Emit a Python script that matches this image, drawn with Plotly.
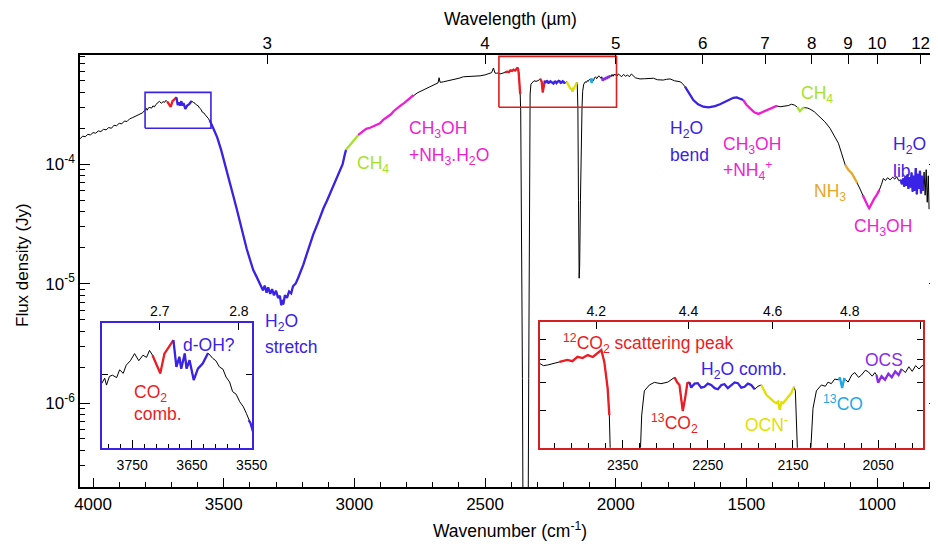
import math
import plotly.graph_objects as go

# ---------------- data ----------------
wavenumber = [
    4050, 4040, 4030, 4020, 4010, 4000, 3990, 3980, 3970, 3960, 3950, 3940, 3930, 3920,
    3910, 3900, 3890, 3880, 3870, 3860, 3850, 3840, 3830, 3820, 3810, 3802, 3796, 3793,
    3788, 3783, 3776, 3771, 3765, 3760, 3753, 3746, 3739, 3732, 3726, 3721, 3716, 3709,
    3703, 3696, 3688, 3681, 3676, 3671, 3668, 3662, 3659, 3654, 3647, 3640, 3632, 3623,
    3615, 3610, 3604, 3598, 3593, 3587, 3582, 3576, 3570, 3564, 3559, 3555, 3552, 3540,
    3525, 3510, 3501, 3490, 3478, 3463, 3450, 3437, 3425, 3412, 3400, 3387, 3375, 3361,
    3350, 3343, 3336, 3330, 3322, 3315, 3308, 3300, 3292, 3285, 3280, 3276, 3272, 3266,
    3258, 3250, 3242, 3235, 3225, 3215, 3208, 3195, 3183, 3170, 3157, 3144, 3131, 3118,
    3105, 3093, 3080, 3068, 3055, 3045, 3037, 3032, 3025, 3015, 3005, 2995, 2985, 2970,
    2955, 2940, 2925, 2910, 2902, 2890, 2875, 2860, 2850, 2838, 2825, 2810, 2795, 2785,
    2774, 2760, 2745, 2730, 2715, 2700, 2690, 2680, 2676, 2672, 2660, 2640, 2620, 2600,
    2583, 2560, 2540, 2519, 2500, 2485, 2475, 2468, 2462, 2456, 2448, 2443, 2438, 2430,
    2424, 2415, 2409, 2403, 2397, 2391, 2385, 2379, 2375, 2371.5, 2367.6, 2365.6, 2363.6, 2360,
    2357, 2355, 2335, 2333, 2331, 2329, 2327.6, 2324.5, 2318.6, 2312.7, 2305, 2297, 2289, 2286,
    2283.3, 2279.4, 2276.6, 2274, 2271.5, 2269.5, 2265.5, 2261.8, 2257.8, 2253.9, 2250, 2246, 2242, 2238.2,
    2234, 2230.4, 2226.5, 2222.5, 2218.5, 2214.7, 2210.7, 2206.8, 2203, 2199, 2195, 2191, 2187.2, 2184,
    2181.3, 2178, 2175.4, 2172.5, 2169.5, 2167.5, 2165.6, 2163.5, 2161.8, 2159, 2155.9, 2152, 2148.8, 2147.2,
    2144.8, 2142.5, 2140, 2138, 2135, 2131, 2129, 2126.5, 2122.5, 2116.6, 2112, 2108.8, 2105, 2101,
    2096, 2095, 2092.3, 2090, 2088, 2085.3, 2081, 2077.4, 2073, 2069.5, 2065, 2061.6, 2057, 2053.8,
    2052, 2050, 2046, 2042, 2038, 2034, 2030, 2026, 2022.5, 2018, 2014, 2010, 2006, 2002,
    1998, 1994, 1990, 1985, 1978, 1970, 1962, 1955, 1948, 1940, 1932, 1925, 1918, 1907,
    1890, 1870, 1856, 1840, 1818, 1805, 1792, 1775, 1754, 1745, 1735, 1720, 1703, 1685,
    1665, 1645, 1620, 1601, 1580, 1562, 1550, 1537, 1525, 1512, 1500, 1486, 1470, 1454,
    1440, 1423, 1405, 1384, 1371, 1359, 1340, 1327, 1315, 1305, 1295, 1285, 1278, 1265,
    1257, 1240, 1218, 1200, 1180, 1165, 1148, 1135, 1122, 1110, 1097, 1085, 1075, 1065,
    1055, 1045, 1035, 1030, 1022, 1012, 1000, 991, 983, 976, 968, 960, 950, 940,
    932, 925, 917, 910, 905, 900, 896, 892, 888, 884, 880, 876, 872, 868,
    864, 860, 856, 852, 848, 844, 840, 836, 832, 828, 824, 820, 816, 812,
    808, 804, 801,
]
flux = [
    1.63e-4, 1.72e-4, 1.70e-4, 1.78e-4, 1.76e-4, 1.84e-4, 1.82e-4, 1.90e-4, 1.88e-4, 1.96e-4, 1.94e-4, 2.03e-4, 2.00e-4, 2.12e-4,
    2.10e-4, 2.20e-4, 2.18e-4, 2.30e-4, 2.28e-4, 2.40e-4, 2.45e-4, 2.52e-4, 2.55e-4, 2.66e-4, 2.70e-4, 2.84e-4, 2.94e-4, 2.83e-4,
    2.97e-4, 2.99e-4, 2.95e-4, 3.08e-4, 3.02e-4, 3.16e-4, 3.24e-4, 3.37e-4, 3.24e-4, 3.34e-4, 3.30e-4, 3.43e-4, 3.34e-4, 3.16e-4,
    3.02e-4, 3.37e-4, 3.50e-4, 3.63e-4, 3.13e-4, 3.31e-4, 3.10e-4, 3.37e-4, 3.10e-4, 3.25e-4, 2.91e-4, 3.10e-4, 3.19e-4, 3.38e-4,
    3.28e-4, 3.24e-4, 3.13e-4, 3.09e-4, 2.96e-4, 2.88e-4, 2.73e-4, 2.69e-4, 2.58e-4, 2.51e-4, 2.42e-4, 2.33e-4, 2.29e-4, 2.00e-4,
    1.68e-4, 1.32e-4, 1.12e-4, 9.3e-5, 7.2e-5, 5.4e-5, 4.2e-5, 3.2e-5, 2.5e-5, 1.95e-5, 1.6e-5, 1.3e-5, 1.15e-5, 1.0e-5,
    8.8e-6, 9.6e-6, 8.4e-6, 9.3e-6, 8.2e-6, 9.0e-6, 8.0e-6, 8.7e-6, 7.6e-6, 7.9e-6, 6.6e-6, 7.3e-6, 6.7e-6, 8.0e-6,
    7.6e-6, 8.6e-6, 8.3e-6, 9.5e-6, 1.0e-5, 1.12e-5, 1.22e-5, 1.45e-5, 1.75e-5, 2.18e-5, 2.6e-5, 3.05e-5, 3.65e-5, 4.3e-5,
    4.95e-5, 5.7e-5, 6.6e-5, 7.5e-5, 8.7e-5, 1.0e-4, 1.2e-4, 1.32e-4, 1.38e-4, 1.45e-4, 1.55e-4, 1.65e-4, 1.76e-4, 1.88e-4,
    1.98e-4, 2.02e-4, 2.10e-4, 2.18e-4, 2.20e-4, 2.35e-4, 2.48e-4, 2.62e-4, 2.78e-4, 2.94e-4, 3.08e-4, 3.25e-4, 3.45e-4, 3.62e-4,
    3.80e-4, 3.95e-4, 4.10e-4, 4.25e-4, 4.40e-4, 4.55e-4, 4.62e-4, 4.80e-4, 5.30e-4, 4.85e-4, 4.90e-4, 5.00e-4, 5.10e-4, 5.25e-4,
    5.40e-4, 5.42e-4, 5.50e-4, 5.50e-4, 5.60e-4, 5.70e-4, 5.85e-4, 6.40e-4, 5.80e-4, 5.78e-4, 5.81e-4, 5.70e-4, 5.73e-4, 5.80e-4,
    5.87e-4, 5.96e-4, 5.90e-4, 6.11e-4, 6.05e-4, 6.19e-4, 6.10e-4, 6.28e-4, 6.44e-4, 5.87e-4, 4.78e-4, 3.87e-4, 2.80e-4, 3.2e-5,
    1.6e-6, 1.3e-7, 1.3e-7, 1.6e-6, 1.6e-5, 3.0e-4, 3.87e-4, 4.68e-4, 4.90e-4, 5.00e-4, 4.95e-4, 5.01e-4, 5.20e-4, 5.00e-4,
    4.90e-4, 4.00e-4, 4.42e-4, 4.97e-4, 5.00e-4, 4.80e-4, 4.95e-4, 4.97e-4, 4.80e-4, 4.83e-4, 4.95e-4, 4.90e-4, 4.78e-4, 4.74e-4,
    4.90e-4, 4.93e-4, 4.78e-4, 4.88e-4, 5.00e-4, 4.97e-4, 4.80e-4, 4.83e-4, 4.95e-4, 4.90e-4, 4.74e-4, 4.85e-4, 4.90e-4, 4.70e-4,
    4.54e-4, 4.45e-4, 4.37e-4, 4.30e-4, 4.25e-4, 4.30e-4, 4.04e-4, 4.28e-4, 4.25e-4, 4.35e-4, 4.48e-4, 4.60e-4, 4.83e-4, 4.68e-4,
    2.95e-4, 5.0e-5, 1.11e-5, 1.4e-5, 5.0e-5, 2.5e-4, 3.0e-4, 4.08e-4, 4.68e-4, 4.90e-4, 4.85e-4, 5.01e-4, 4.95e-4, 5.13e-4,
    5.10e-4, 5.20e-4, 4.79e-4, 5.13e-4, 5.10e-4, 5.01e-4, 5.30e-4, 5.40e-4, 5.20e-4, 5.30e-4, 5.50e-4, 5.43e-4, 5.25e-4, 5.40e-4,
    5.30e-4, 4.99e-4, 5.25e-4, 5.10e-4, 5.35e-4, 5.20e-4, 5.45e-4, 5.30e-4, 5.55e-4, 5.40e-4, 5.65e-4, 5.45e-4, 5.70e-4, 5.55e-4,
    5.72e-4, 5.50e-4, 5.70e-4, 5.60e-4, 5.40e-4, 5.65e-4, 5.45e-4, 5.60e-4, 5.40e-4, 5.70e-4, 5.50e-4, 5.30e-4, 5.25e-4, 5.18e-4,
    5.20e-4, 5.25e-4, 5.25e-4, 5.10e-4, 5.07e-4, 5.15e-4, 5.18e-4, 5.00e-4, 4.91e-4, 4.75e-4, 4.46e-4, 3.95e-4, 3.45e-4, 3.18e-4,
    3.03e-4, 3.00e-4, 3.07e-4, 3.18e-4, 3.35e-4, 3.52e-4, 3.60e-4, 3.63e-4, 3.55e-4, 3.45e-4, 3.15e-4, 2.94e-4, 2.72e-4, 2.64e-4,
    2.72e-4, 2.84e-4, 2.95e-4, 3.08e-4, 3.03e-4, 3.06e-4, 3.10e-4, 3.18e-4, 3.12e-4, 3.00e-4, 2.79e-4, 2.95e-4, 2.98e-4, 2.95e-4,
    2.90e-4, 2.75e-4, 2.50e-4, 2.27e-4, 2.00e-4, 1.75e-4, 1.50e-4, 1.22e-4, 9.86e-5, 9.0e-5, 8.4e-5, 7.6e-5, 6.93e-5, 6.2e-5,
    5.53e-5, 4.9e-5, 4.45e-5, 4.28e-5, 4.7e-5, 5.1e-5, 5.6e-5, 6.1e-5, 6.8e-5, 7.6e-5, 7.3e-5, 7.7e-5, 7.4e-5, 7.8e-5,
    7.5e-5, 7.87e-5, 7.3e-5, 7.4e-5, 6.8e-5, 7.6e-5, 6.5e-5, 7.9e-5, 6.6e-5, 8.2e-5, 6.2e-5, 7.8e-5, 6.4e-5, 8.5e-5,
    5.9e-5, 8.0e-5, 6.0e-5, 9.3e-5, 5.6e-5, 8.3e-5, 6.2e-5, 8.8e-5, 5.7e-5, 8.0e-5, 6.0e-5, 8.6e-5, 5.5e-5, 9.0e-5,
    4.8e-5, 8.0e-5, 4.2e-5,
]

# coloured band segments: (high wavenumber, low wavenumber) and their colours
RED, BLUE, GREEN, MAGENTA = "#ec1c24", "#3a22e6", "#a6e22a", "#f01ed2"
YELLOW, CYAN, PURPLE, ORANGE = "#e2e000", "#1fa8e6", "#8a2be6", "#eaa628"
seg_ranges = [(3716, 3681), (3681, 3623), (3555, 3032), (3032, 2985), (2985, 2774),
              (2424, 2365.6), (2289, 2271.5), (2271.5, 2195), (2187.2, 2148.8),
              (2096, 2088), (2052, 2022.5), (1735, 1512), (1512, 1384), (1305, 1278),
              (1122, 1075), (1055, 991), (910, 824)]
seg_colors = [RED, BLUE, BLUE, GREEN, MAGENTA, RED, RED, BLUE, YELLOW, CYAN, PURPLE,
              BLUE, MAGENTA, GREEN, ORANGE, MAGENTA, BLUE]

main_xticks = [4000, 3500, 3000, 2500, 2000, 1500, 1000]
main_xminor = list(range(4000, 799, -100))
wavelength_ticks = [3, 4, 5, 6, 7, 8, 9, 10, 12]
main_yticks = [1e-6, 1e-5, 1e-4]
blue_inset_wn = [3801, 3549]
blue_inset_flux = [2e-4, 4e-4]
blue_inset_wl = [2.7, 2.8]
blue_inset_xticks = [3750, 3650, 3550]
blue_inset_xminor = list(range(3790, 3549, -20))
red_inset_wn = [2447, 1997]
red_inset_flux = [3e-4, 8e-4]
red_inset_wl = [4.2, 4.4, 4.6, 4.8, 5.0]
red_inset_xticks = [2350, 2250, 2150, 2050]
red_inset_xminor = list(range(2430, 1999, -20))

# ---------------- layout geometry ----------------
# the page body adds an 8px offset; margins compensate so the plot area lands at
# screen x 80..939 and y 55..487
OFF = 8
W, H = 938, 544
PL, PR, PT, PB = 80, 939, 55, 487          # target plot area in screen pixels
L, T = PL - OFF, PT - OFF
R = W - (PR - OFF)
B = H - (PB - OFF)
PW, PH = PR - PL, PB - PT
FONT = "Liberation Sans, Arial, sans-serif"
REDFRAME = "#d42020"


def px_x(x):
    return (x - PL) / PW


def px_y(y):
    return (PB - y) / PH


fig = go.Figure()


def add_spectrum(xa, ya, wblack, wcol):
    fig.add_trace(go.Scatter(x=wavenumber, y=flux, mode="lines", xaxis=xa, yaxis=ya,
                             line=dict(color="black", width=wblack), hoverinfo="skip",
                             showlegend=False))
    for (hi, lo), col in zip(seg_ranges, seg_colors):
        xs = [w for w in wavenumber if lo <= w <= hi]
        ys = [f for w, f in zip(wavenumber, flux) if lo <= w <= hi]
        fig.add_trace(go.Scatter(x=xs, y=ys, mode="lines", xaxis=xa, yaxis=ya,
                                 line=dict(color=col, width=wcol), hoverinfo="skip",
                                 showlegend=False))


add_spectrum("x", "y", 1.0, 2.3)
add_spectrum("x3", "y3", 1.0, 2.3)
add_spectrum("x4", "y4", 1.0, 2.3)

# zoom boxes on main plot
for (x0, x1), (y0, y1), col in [(blue_inset_wn, blue_inset_flux, BLUE),
                                (red_inset_wn, red_inset_flux, "#e01e1e")]:
    fig.add_trace(go.Scatter(x=[x0, x1, x1, x0, x0], y=[y0, y0, y1, y1, y0], mode="lines",
                             xaxis="x", yaxis="y", line=dict(color=col, width=1.6),
                             hoverinfo="skip", showlegend=False))

# invisible traces to activate top wavelength axes
for xa, ya, rng, yv in [("x2", "y", main_xticks, 3e-4), ("x5", "y3", blue_inset_wn, 3e-4),
                        ("x6", "y4", red_inset_wn, 5e-4)]:
    fig.add_trace(go.Scatter(x=[rng[0]], y=[yv], xaxis=xa, yaxis=ya, mode="markers",
                             marker=dict(opacity=0), hoverinfo="skip", showlegend=False))

MAIN_X = [4050, 763]
MAIN_Y = [math.log10(1.98e-7), math.log10(8.22e-4)]

tickfont = dict(family=FONT, size=17, color="black")
small = dict(family=FONT, size=14, color="black")

minor_y = [k * 10 ** e for e in range(-7, -3) for k in range(2, 10)]


def ax(**kw):
    d = dict(showgrid=False, zeroline=False, showline=True, linecolor="black",
             ticks="inside", tickcolor="black", automargin=False)
    d.update(kw)
    return d


def mn(vals, ln):
    return dict(tickvals=vals, ticklen=ln, ticks="inside", tickcolor="black", tickwidth=1.1,
                showgrid=False)


fig.update_layout(
    width=W, height=H, margin=dict(l=L, r=R, t=T, b=B, autoexpand=False),
    paper_bgcolor="white", plot_bgcolor="white", showlegend=False,
    font=dict(family=FONT, color="black"),
    xaxis=ax(domain=[0, 1], anchor="y", range=MAIN_X, linewidth=1.5,
             tickvals=main_xticks, ticktext=[str(v) for v in main_xticks], ticklen=9,
             tickwidth=1.3, tickfont=tickfont, ticklabelstandoff=1,
             minor=mn(main_xminor, 5)),
    xaxis2=ax(overlaying="x", anchor="y", side="top", range=MAIN_X, linewidth=1.5,
              tickvals=[1e4 / w for w in wavelength_ticks],
              ticktext=[str(w) for w in wavelength_ticks], ticklen=9, tickwidth=1.3,
              tickfont=tickfont, ticklabelstandoff=-3),
    yaxis=ax(domain=[0, 1], anchor="x", type="log", range=MAIN_Y, linewidth=1.5,
             mirror="ticks", tickvals=main_yticks,
             ticktext=["10<sup>-6</sup>", "10<sup>-5</sup>", "10<sup>-4</sup>"],
             ticklen=10, tickwidth=1.3, tickfont=tickfont, ticklabelstandoff=0,
             minor=mn(minor_y, 5)),
    # blue inset
    xaxis3=ax(domain=[px_x(101.7), px_x(252.3)], anchor="y3", range=blue_inset_wn,
              linecolor=BLUE, linewidth=2.2, mirror=True, tickvals=blue_inset_xticks,
              ticktext=[str(v) for v in blue_inset_xticks], ticklen=8, tickwidth=1.2,
              tickfont=small, ticklabelstandoff=3, minor=mn(blue_inset_xminor, 4)),
    xaxis5=ax(overlaying="x3", anchor="y3", side="top", range=blue_inset_wn,
              linecolor=BLUE, linewidth=2.2,
              tickvals=[1e4 / w for w in blue_inset_wl],
              ticktext=[str(w) for w in blue_inset_wl], ticklen=7, tickwidth=1.2,
              tickfont=small, ticklabelstandoff=-1),
    yaxis3=ax(domain=[px_y(447.7), px_y(322.7)], anchor="x3", type="log",
              range=[math.log10(v) for v in blue_inset_flux], linecolor=BLUE, linewidth=2.2,
              mirror="ticks", tickvals=[3e-4], showticklabels=False, ticklen=6, tickwidth=1.2),
    # red inset
    xaxis4=ax(domain=[px_x(540), px_x(923.3)], anchor="y4", range=red_inset_wn,
              linecolor=REDFRAME, linewidth=2.2, mirror=True,
              tickvals=red_inset_xticks, ticktext=[str(v) for v in red_inset_xticks],
              ticklen=8, tickwidth=1.2, tickfont=small, ticklabelstandoff=3,
              minor=mn(red_inset_xminor, 5)),
    xaxis6=ax(overlaying="x4", anchor="y4", side="top", range=red_inset_wn,
              linecolor=REDFRAME, linewidth=2.2,
              tickvals=[1e4 / w for w in red_inset_wl],
              ticktext=["4.2", "4.4", "4.6", "4.8", ""], ticklen=7, tickwidth=1.2,
              tickfont=small, ticklabelstandoff=-1),
    yaxis4=ax(domain=[px_y(447.7), px_y(322.3)], anchor="x4", type="log",
              range=[math.log10(v) for v in red_inset_flux], linecolor=REDFRAME,
              linewidth=2.2, mirror="ticks", tickvals=[4e-4, 5e-4, 6e-4, 7e-4],
              showticklabels=False, ticklen=6, tickwidth=1.2),
)

# ---------------- text labels ----------------
labels = [
    ("CH<sub>3</sub>OH", 407, 129, MAGENTA),
    ("+NH<sub>3</sub>.H<sub>2</sub>O", 407, 156, MAGENTA),
    ("CH<sub>4</sub>", 355, 164, GREEN),
    ("H<sub>2</sub>O", 263, 322, BLUE),
    ("stretch", 263, 347, BLUE),
    ("H<sub>2</sub>O", 668, 129, BLUE),
    ("bend", 668, 155, BLUE),
    ("CH<sub>3</sub>OH", 721, 145, MAGENTA),
    ("+NH<sub>4</sub><sup>+</sup>", 721, 170, MAGENTA),
    ("CH<sub>4</sub>", 799, 95, GREEN),
    ("NH<sub>3</sub>", 812, 192, ORANGE),
    ("CH<sub>3</sub>OH", 852, 227, MAGENTA),
    ("H<sub>2</sub>O", 891, 145, BLUE),
    ("lib", 891, 171, BLUE),
    ("d-OH?", 181, 345, BLUE),
    ("CO<sub>2</sub>", 132, 393, RED),
    ("comb.", 132, 414, RED),
    ("<sup>12</sup>CO<sub>2</sub> scattering peak", 561, 343, RED),
    ("H<sub>2</sub>O comb.", 699, 370, BLUE),
    ("<sup>13</sup>CO<sub>2</sub>", 649, 423, RED),
    ("OCN<sup>-</sup>", 743, 424, YELLOW),
    ("<sup>13</sup>CO", 821, 403, CYAN),
    ("OCS", 863, 360, PURPLE),
]
for text, x, y, col in labels:
    fig.add_annotation(text=text, x=px_x(x), y=px_y(y), xref="paper", yref="paper",
                       xanchor="left", yanchor="middle", showarrow=False,
                       font=dict(family=FONT, size=17.5, color=col))

# axis titles
fig.add_annotation(text="Wavelength (µm)", x=px_x(510), y=px_y(19), xref="paper", yref="paper",
                   showarrow=False, xanchor="center", yanchor="middle", borderpad=0,
                   font=dict(family=FONT, size=17.5, color="black"))
fig.add_annotation(text="Wavenumber (cm<sup>-1</sup>)", x=px_x(510), y=px_y(530), xref="paper",
                   yref="paper", showarrow=False, xanchor="center", yanchor="middle",
                   font=dict(family=FONT, size=17.5, color="black"))
fig.add_annotation(text="Flux density (Jy)", x=px_x(22), y=px_y(265), xref="paper", yref="paper",
                   showarrow=False, xanchor="center", yanchor="middle", textangle=-90,
                   font=dict(family=FONT, size=17, color="black"))

fig.write_html("out.html")
